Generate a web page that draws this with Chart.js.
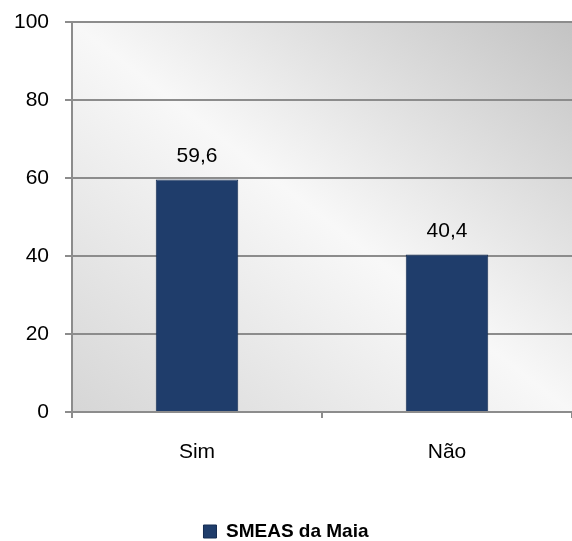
<!DOCTYPE html>
<html>
<head>
<meta charset="utf-8">
<script src="https://cdn.jsdelivr.net/npm/chart.js@4"></script>
<style>
  html, body { margin: 0; padding: 0; background: #fff; }
  #wrap { width: 572px; height: 541px; }
</style>
</head>
<body>
<div id="wrap"><canvas id="bar-chart" width="572" height="541"></canvas></div>
<script>
const categories = ['Sim', 'Não'];
const values = [59.6, 40.4];
const valueLabels = ['59,6', '40,4'];
const seriesName = 'SMEAS da Maia';

const FONT = "'Liberation Sans Narrow', 'Arial Narrow', 'Liberation Sans', sans-serif";

// shaded plot area background: light along the top-left / bottom-right diagonal, grey toward the other corners
const plotBg = {
  id: 'plotBg',
  beforeDraw(chart) {
    const { ctx, chartArea: a } = chart;
    const w = a.right - a.left, h = a.bottom - a.top;
    const cx = a.left + w / 2, cy = a.top + h / 2;
    const len = Math.hypot(w, h);
    const ux = h / len, uy = -w / len;
    const k = (w / 2 * ux + h / 2 * -uy);
    const g = ctx.createLinearGradient(cx - k * ux, cy - k * uy, cx + k * ux, cy + k * uy);
    g.addColorStop(0, '#d6d6d6');
    g.addColorStop(0.5, '#f8f8f8');
    g.addColorStop(1, '#c3c3c3');
    ctx.save();
    ctx.fillStyle = g;
    ctx.fillRect(a.left, a.top, w, h);
    ctx.restore();
  }
};

// value labels above the bars
const barLabels = {
  id: 'barLabels',
  afterDatasetsDraw(chart) {
    const { ctx } = chart;
    const meta = chart.getDatasetMeta(0);
    ctx.save();
    ctx.font = '21px ' + FONT;
    ctx.fillStyle = '#000';
    ctx.textAlign = 'center';
    ctx.textBaseline = 'middle';
    meta.data.forEach((bar, i) => {
      ctx.fillText(valueLabels[i], bar.x, bar.y - 23);
    });
    ctx.restore();
  }
};

function barFill(context) {
  const el = context.element;
  if (!el || el.width === undefined) return '#1f3d6b';
  const { ctx } = context.chart;
  const half = el.width / 2;
  const g = ctx.createLinearGradient(el.x - half, 0, el.x + half, 0);
  g.addColorStop(0, '#18335c');
  g.addColorStop(0.12, '#213f6d');
  g.addColorStop(0.88, '#213f6d');
  g.addColorStop(1, '#18335c');
  return g;
}

new Chart(document.getElementById('bar-chart'), {
  type: 'bar',
  data: {
    labels: categories,
    datasets: [{
      label: seriesName,
      data: values,
      backgroundColor: barFill,
      borderColor: '#142c52',
      borderWidth: 1,
      categoryPercentage: 1,
      barPercentage: 0.33
    }]
  },
  options: {
    responsive: false,
    animation: false,
    layout: { padding: { top: 22, right: 0, bottom: -10, left: 0 } },
    plugins: {
      tooltip: { enabled: false },
      legend: {
        position: 'bottom',
        labels: {
          boxWidth: 13,
          boxHeight: 13,
          padding: 0,
          color: '#000',
          generateLabels: chart => [{
            text: seriesName,
            fillStyle: '#1f3d6b',
            strokeStyle: '#142c52',
            lineWidth: 1,
            hidden: false,
            datasetIndex: 0
          }],
          font: { family: FONT, size: 19, weight: 'bold' }
        }
      }
    },
    scales: {
      x: {
        grid: { offset: true, drawOnChartArea: false, drawTicks: true, tickLength: 6, color: '#8c8c8c', lineWidth: 2 },
        border: { color: '#8c8c8c', width: 2 },
        ticks: { color: '#000', padding: 22, font: { family: FONT, size: 21 } },
        afterFit: s => { s.height = 110; s.paddingLeft = 0; s.paddingRight = 0; }
      },
      y: {
        min: 0,
        max: 100,
        ticks: { stepSize: 20, color: '#000', padding: 16, font: { family: FONT, size: 21 } },
        grid: { color: '#8c8c8c', lineWidth: 2, tickLength: 7 },
        border: { color: '#8c8c8c', width: 2 },
        afterFit: s => { s.width = 72; s.paddingTop = 0; s.paddingBottom = 0; }
      }
    }
  },
  plugins: [plotBg, barLabels]
});
</script>
</body>
</html>
